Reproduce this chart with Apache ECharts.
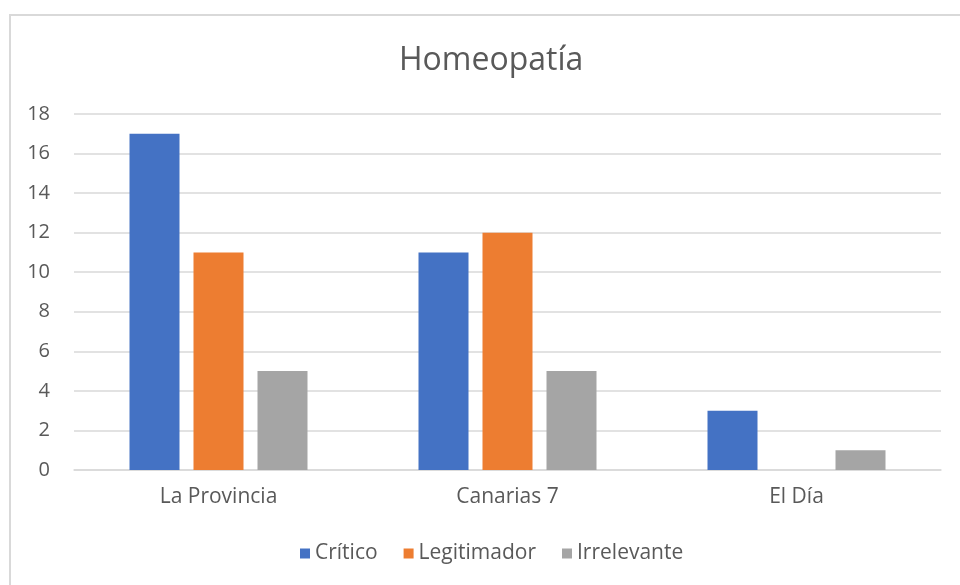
<!DOCTYPE html>
<html>
<head>
<meta charset="utf-8">
<script src="https://cdn.jsdelivr.net/npm/echarts@6/dist/echarts.min.js"></script>
<style>
  html, body { margin: 0; padding: 0; background: #fff; }
  #chart { width: 960px; height: 585px; }
</style>
</head>
<body>
<div id="chart"></div>
<script>
const categories = ['La Provincia', 'Canarias 7', 'El Día']
const critico = [17, 11, 3]
const legitimador = [11, 12, 0]
const irrelevante = [5, 5, 1]
const yTicks = { min: 0, max: 18, interval: 2 }

const font = 'Open Sans'
const chart = echarts.init(document.getElementById('chart'))

function bar (name, data, color) {
  return {
    name: name,
    type: 'bar',
    data: data,
    barWidth: 50,
    barGap: '28%',
    itemStyle: { color: color },
    emphasis: { disabled: true }
  }
}

chart.setOption({
  animation: false,
  textStyle: { fontFamily: font },
  // chart frame
  graphic: [{
    type: 'rect',
    shape: { x: 10, y: 15, width: 1000, height: 620 },
    style: { fill: 'none', stroke: '#d9d9d9', lineWidth: 2 },
    silent: true
  }],
  title: {
    text: 'Homeopatía',
    left: 394,
    top: 40,
    textStyle: { fontFamily: font, fontSize: 32, fontWeight: 'normal', color: '#595959' }
  },
  legend: {
    top: 538,
    left: 295,
    itemWidth: 10,
    itemHeight: 10,
    itemGap: 26,
    icon: 'rect',
    textStyle: { fontFamily: font, fontSize: 21, color: '#595959' },
    data: ['Crítico', 'Legitimador', 'Irrelevante']
  },
  grid: { left: 74, right: 19, top: 114, bottom: 115 },
  xAxis: {
    type: 'category',
    data: categories,
    axisLine: { lineStyle: { color: '#d9d9d9', width: 1.5 } },
    axisTick: { show: false },
    axisLabel: { fontFamily: font, fontSize: 21, color: '#595959', margin: 17 }
  },
  yAxis: {
    type: 'value',
    min: yTicks.min,
    max: yTicks.max,
    interval: yTicks.interval,
    axisLine: { show: false },
    axisTick: { show: false },
    splitLine: { lineStyle: { color: '#d9d9d9', width: 1.5 } },
    axisLabel: { fontFamily: font, fontSize: 20, color: '#595959', margin: 24 }
  },
  series: [
    bar('Crítico', critico, '#4472c4'),
    bar('Legitimador', legitimador, '#ed7d31'),
    bar('Irrelevante', irrelevante, '#a5a5a5')
  ]
})
</script>
</body>
</html>
